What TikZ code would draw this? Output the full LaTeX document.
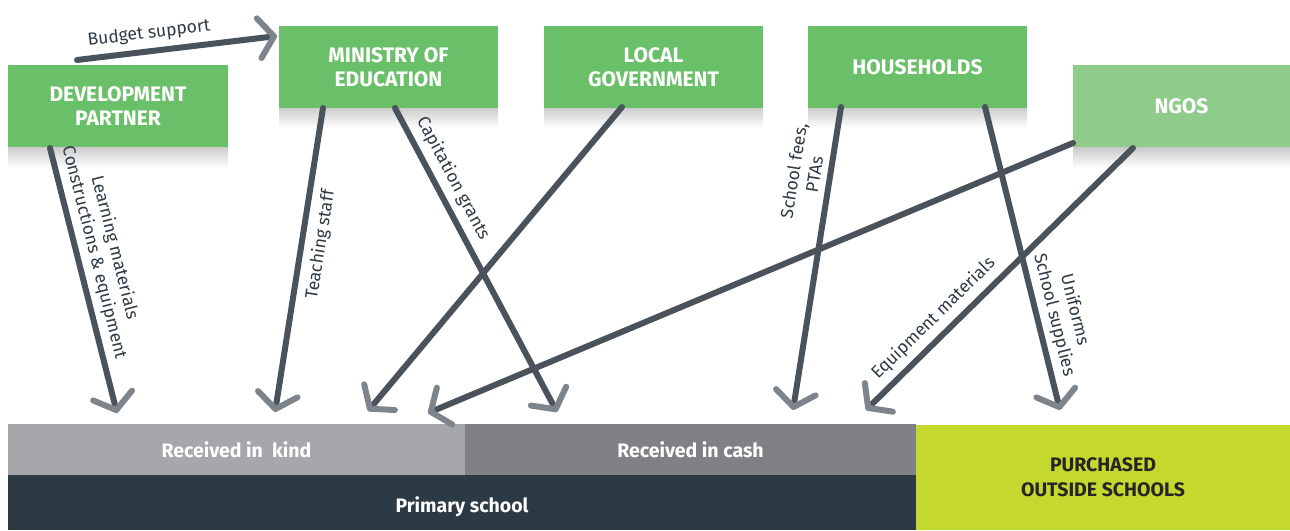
\documentclass[tikz,border=0pt]{standalone}
\usepackage{fontspec}
\setmainfont{Fira Sans}
\usetikzlibrary{arrows.meta}
\definecolor{gA}{HTML}{6ABF69}
\definecolor{gB}{HTML}{8FCB8A}
\definecolor{lineC}{HTML}{4A535C}
\definecolor{tipC}{HTML}{7E848B}
\definecolor{kindC}{HTML}{A6A7AA}
\definecolor{cashC}{HTML}{808184}
\definecolor{primC}{HTML}{2B3A45}
\definecolor{purC}{HTML}{C5D82E}
\definecolor{txtC}{HTML}{2E3A45}
\begin{document}
\begin{tikzpicture}[x=1pt,y=-1pt,
  box/.style={fill=gA, text=white, font=\bfseries\fontsize{21}{24}\selectfont, align=center,
    inner sep=0pt, minimum width=220pt, minimum height=82pt},
  bar/.style={text=white, font=\bfseries\fontsize{19.5}{22}\selectfont, align=center, inner sep=0pt},
  shadowbox/.style={top color=black!22, bottom color=white},
  flowline/.style={draw=lineC, line width=6pt, line cap=round,
    -{Straight Barb[length=15pt,width=40pt,line width=6pt,round,color=tipC]}},
  flowtext/.style={text=txtC, font=\fontsize{17.5}{21}\selectfont, align=center, sloped}
]
\useasboundingbox (0,0) rectangle (1290,530);
% shadows
\shade[shadowbox] (8,145) rectangle (228,168);
\shade[shadowbox] (279,106) rectangle (498,128);
\shade[shadowbox] (544,106) rectangle (763,128);
\shade[shadowbox] (808,106) rectangle (1027,128);
\shade[shadowbox] (1073,146) rectangle (1290,168);
% boxes
\node[box] (dp) at (118,106) {DEVELOPMENT\\PARTNER};
\node[box, minimum width=219pt] (moe) at (388.5,67) {MINISTRY OF\\EDUCATION};
\node[box, minimum width=219pt] (lg) at (653.5,67) {LOCAL\\GOVERNMENT};
\node[box, minimum width=219pt] (hh) at (917.5,67) {HOUSEHOLDS};
\node[box, fill=gB, minimum width=217pt] (ngo) at (1181.5,106) {NGOS};
% bars
\node[bar, fill=kindC, minimum width=457pt, minimum height=51pt] (kind) at (236.5,449.5) {Received in~ kind};
\node[bar, fill=cashC, minimum width=451pt, minimum height=51pt] (cash) at (690.5,449.5) {Received in cash};
\node[bar, fill=primC, minimum width=908pt, minimum height=55pt] (prim) at (462,502.5) {};
\node[bar] (primtxt) at (462,507) {Primary school};
\node[bar, fill=purC, text=black!85, minimum width=374pt, minimum height=105pt, font=\bfseries\fontsize{19.5}{25}\selectfont] (pur) at (1103,477.5) {PURCHASED\\OUTSIDE SCHOOLS};
% connector end points
\coordinate (dpT) at (77,60);
\coordinate (dpB) at (50,148);
\coordinate (moeL) at (323,108);
\coordinate (moeR) at (395,108);
\coordinate (lgB) at (622,107);
\coordinate (hhL) at (841,107);
\coordinate (hhR) at (985,107);
\coordinate (ngoL) at (1073,143);
\coordinate (ngoB) at (1133,148);
\coordinate (moeIn) at (277,36);
\coordinate (k1) at (117,413);
\coordinate (k2) at (275,412);
\coordinate (k3) at (368,411);
\coordinate (k4) at (428,413);
\coordinate (c1) at (557,412);
\coordinate (c2) at (793,410);
\coordinate (c3) at (866,410);
\coordinate (p1) at (1060,410);
% connectors
\draw[flowline] (dpT) -- node[flowtext, pos=0.37, above=3pt] {Budget support} (moeIn);
\draw[flowline] (dpB) -- node[flowtext, pos=0.41, above=2pt] {Learning materials\\Constructions \& equipment} (k1);
\draw[flowline] (moeL) -- node[flowtext, pos=0.44, below=4pt] {Teaching staff} (k2);
\draw[flowline] (moeR) -- node[flowtext, pos=0.26, above=3pt] {Capitation grants} (c1);
\draw[flowline] (lgB) -- (k3);
\draw[flowline] (ngoL) -- (k4);
\draw[flowline] (hhL) -- node[flowtext, pos=0.23, above=3pt] {School fees,\\PTAs} (c2);
\draw[flowline] (ngoB) -- node[flowtext, pos=0.70, above=3pt] {Equipment materials} (c3);
\draw[flowline] (hhR) -- node[flowtext, pos=0.70, above=2pt] {Uniforms\\School supplies} (p1);
\end{tikzpicture}
\end{document}
